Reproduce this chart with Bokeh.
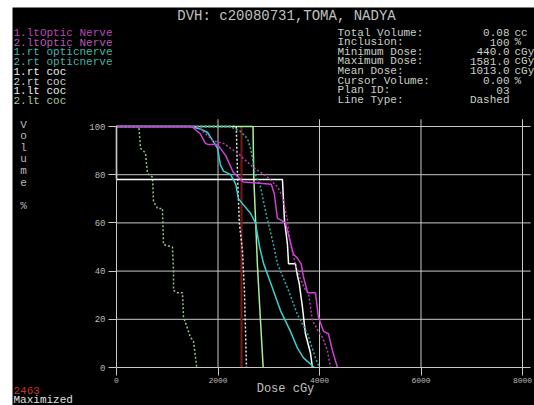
from bokeh.plotting import figure
from bokeh.models import Range1d, FixedTicker, Label, Spacer
from bokeh.layouts import row, column
from bokeh.embed import file_html
from bokeh.resources import INLINE

# ---------------- data ----------------
x_ticks = [0, 2000, 4000, 6000, 8000]
y_ticks = [0, 20, 40, 60, 80, 100]

lt_optic1_dose = [0, 1480, 1650, 1753, 1812, 1990, 2150, 2300, 2500, 3050, 3110, 3170, 3330, 3390,
                  3487, 3560, 3640, 3680, 3763, 3920, 3979, 4078, 4176, 4255, 4354]
lt_optic1_vol = [100, 100, 97, 93, 92.5, 92.5, 88, 81, 77, 76, 72, 62, 60, 55,
                 47, 45.5, 43, 38, 31, 31, 21, 15, 14, 7, 0]

lt_optic2_dose = [0, 1600, 1910, 2108, 2384, 2698, 2975, 3172, 3270, 3369, 3420, 3500, 3600, 3700,
                  3782, 3861, 3979, 4058, 4157, 4216]
lt_optic2_vol = [100, 100, 94, 93, 89, 83, 79, 75, 71, 61, 52, 45, 38, 33,
                 31, 19.5, 15, 12.5, 7, 0]

rt_optic1_dose = [0, 1458, 1650, 1793, 1990, 2049, 2108, 2250, 2350, 2403, 2482, 2640, 2738, 2820,
                  2900, 3073, 3231, 3428, 3566, 3684, 3900]
rt_optic1_vol = [100, 100, 99, 97.5, 91, 84, 81.5, 80, 76, 70, 68, 64, 60, 50,
                 43, 33, 23.6, 15, 8, 4, 0]

rt_optic2_dose = [0, 2240, 2440, 2580, 2640, 2680, 2720, 2837, 2935, 3093, 3172, 3231, 3388, 3566,
                  3763, 3920, 4000]
rt_optic2_vol = [100, 100, 98, 95, 91, 87, 81, 75, 65, 51, 43, 40, 32, 22,
                 14, 4, 0]

rt_coc1_dose = [0, 0, 3270, 3310, 3369, 3390, 3526, 3566, 3600, 3664, 3723, 3822, 3861]
rt_coc1_vol = [100, 78, 78, 61, 51, 43, 43, 38, 35, 25, 14, 6, 0]

rt_coc2_dose = [0, 2360, 2384, 2420, 2482, 2520, 2540, 2561]
rt_coc2_vol = [100, 100, 80, 60, 48.5, 32, 17, 0]

lt_coc1_dose = [0, 2690, 2705, 2778, 2837, 2890]
lt_coc1_vol = [100, 100, 79, 42, 19.5, 0]

lt_coc2_dose = [0, 440, 473, 571, 611, 709, 729, 808, 906, 926, 1103, 1123, 1123, 1202, 1300,
                1320, 1458, 1517, 1581]
lt_coc2_vol = [100, 100, 91, 89, 80.5, 79, 69, 66, 66, 51, 50, 40, 32, 31, 31,
               21, 12.5, 11, 0]

cursor_dose = 2463

structure_names = ["1.ltOptic Nerve", "2.ltOptic Nerve", "1.rt opticnerve", "2.rt opticnerve",
                   "1.rt coc", "2.rt coc", "1.lt coc", "2.lt coc"]

title_text = "DVH: c20080731,TOMA, NADYA"
stat_labels = ["Total Volume:", "Inclusion:", "Minimum Dose:", "Maximum Dose:", "Mean Dose:",
               "Cursor Volume:", "Plan ID:", "Line Type:"]
stat_values = ["0.08", "100", "440.0", "1581.0", "1013.0", "0.00", "03", "Dashed"]
stat_units = ["cc", "%", "cGy", "cGy", "cGy", "%", "", ""]
y_label_letters = ["V", "o", "l", "u", "m", "e", "", "%"]
x_label_text = "Dose cGy"
cursor_text = "2463"
status_text = "Maximized"

# ---------------- layout geometry ----------------
FONT = "Liberation Mono"
GRID = "#c8c8c8"
TXT = "#c8d0c8"
OFF_X, OFF_Y = 12, 7          # white strip left / top of the reference
W, H = 534 - OFF_X, 405 - OFF_Y
AX_X, AX_Y = 116, 367         # page pixel of dose 0 / volume 0
PX_PER_DOSE = 101.5 / 2000.0
PX_PER_VOL = 48.2 / 20.0
x0 = -(AX_X - OFF_X) / PX_PER_DOSE
y0 = -((OFF_Y + H) - AX_Y) / PX_PER_VOL
grid_top = 103
grid_right = 8160

series = [
    (lt_coc2_dose, lt_coc2_vol, "#94c088", "2 2"),
    (lt_coc1_dose, lt_coc1_vol, "#a8f098", "solid"),
    (rt_coc2_dose, rt_coc2_vol, "#e8e8e8", "2 2"),
    (rt_coc1_dose, rt_coc1_vol, "#ffffff", "solid"),
    (rt_optic2_dose, rt_optic2_vol, "#28b0a8", "2 2"),
    (rt_optic1_dose, rt_optic1_vol, "#38d0d0", "solid"),
    (lt_optic2_dose, lt_optic2_vol, "#b040a8", "2 2"),
    (lt_optic1_dose, lt_optic1_vol, "#d040d8", "solid"),
]
name_colors = ["#b848b8", "#b858b8", "#40b8a8", "#48b0a0", "#f0f0f0", "#d0d0d0", "#e8f0e8", "#a8c8a0"]

p = figure(width=W, height=H, output_backend="svg", toolbar_location=None,
           x_range=Range1d(x0, x0 + W / PX_PER_DOSE), y_range=Range1d(y0, y0 + H / PX_PER_VOL),
           min_border=0, min_border_left=0, min_border_right=0, min_border_top=0, min_border_bottom=0,
           background_fill_color="black", border_fill_color="black")
p.outline_line_color = None
p.xgrid.visible = False
p.ygrid.visible = False

for ax in (p.xaxis[0], p.yaxis[0]):
    ax.fixed_location = 0
    ax.axis_line_color = GRID
    ax.major_tick_line_color = GRID
    ax.minor_tick_line_color = None
    ax.major_tick_out = 8
    ax.major_tick_in = 0
    ax.major_label_text_color = "#b8b8b8"
    ax.major_label_text_font = FONT
p.xaxis.ticker = FixedTicker(ticks=x_ticks)
p.yaxis.ticker = FixedTicker(ticks=y_ticks)
p.xaxis.major_label_text_font_size = "8px"
p.yaxis.major_label_text_font_size = "9px"
p.xaxis.major_label_standoff = 2
p.yaxis.major_label_standoff = 3
p.xaxis.bounds = (0, grid_right)
p.yaxis.bounds = (0, 100)

# grid lines derived from the tick lists
vx = x_ticks[1:]
p.segment(x0=vx, y0=[0] * len(vx), x1=vx, y1=[grid_top] * len(vx), line_color=GRID, line_width=1)
hy = y_ticks[1:]
p.segment(x0=[0] * len(hy), y0=hy, x1=[grid_right] * len(hy), y1=hy, line_color=GRID, line_width=1)

# cursor line
p.line([cursor_dose, cursor_dose], [0, 100], line_color="#7c1818", line_width=2)

for d, v, c, dash in series:
    p.line(d, v, line_color=c, line_width=1.5, line_dash=dash)


# ---------------- text (screen units; frame == canvas) ----------------
def add_text(txt, px, py, color, size, align="left"):
    p.add_layout(Label(x=px - OFF_X, y=(OFF_Y + H) - py, x_units="screen", y_units="screen", text=txt,
                       text_color=color, text_font=FONT, text_font_size=size,
                       text_align=align, text_baseline="middle"))


add_text(title_text, 286, 15, "#c0c0c0", "14px", "center")
for i, nm in enumerate(structure_names):
    add_text(nm, 13, 32.3 + 9.75 * i, name_colors[i], "11px")
for i, (lab, val, un) in enumerate(zip(stat_labels, stat_values, stat_units)):
    yy = 32 + 9.6 * i
    add_text(lab, 337, yy, TXT, "11px")
    add_text(val, 509, yy, TXT, "11px", "right")
    if un:
        add_text(un, 514, yy, TXT, "11px")
for i, ch in enumerate(y_label_letters):
    if ch:
        add_text(ch, 23, 124 + 11.6 * i, "#b8b8b8", "11px", "center")
add_text(x_label_text, 285, 388, "#c0c0c0", "12px", "center")
add_text(cursor_text, 13, 389.5, "#c83030", "11px")
add_text(status_text, 13, 399.5, "#e0e0e0", "11px")

layout = row(Spacer(width=OFF_X, height=405), column(Spacer(width=W, height=OFF_Y), p))
open("out.html", "w").write(file_html(layout, INLINE))
